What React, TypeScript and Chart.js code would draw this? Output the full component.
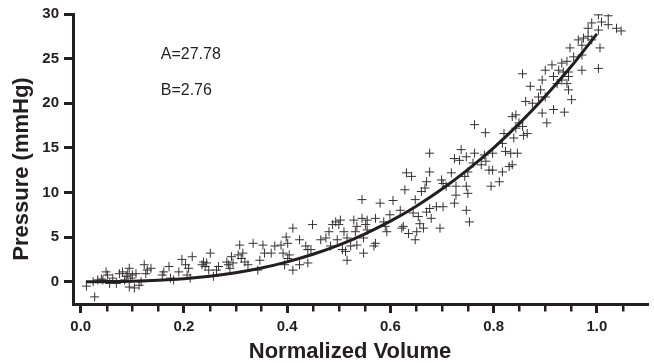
import React, { useEffect, useRef } from "react";
import { Chart, registerables } from "chart.js";

Chart.register(...registerables);

// Measured points (normalized volume, pressure in mmHg)
const volume = [
  0.011, 0.027, 0.024, 0.033, 0.040, 0.049, 0.052, 0.056, 0.062, 0.069, 0.081, 0.088, 0.091, 0.094,
  0.097, 0.094, 0.104, 0.107, 0.113, 0.117, 0.123, 0.129, 0.043, 0.075, 0.085, 0.100, 0.126,
  0.136, 0.161, 0.158, 0.171, 0.174, 0.180, 0.190, 0.196, 0.203, 0.206, 0.209, 0.216, 0.212, 0.235,
  0.238, 0.241, 0.248, 0.251, 0.244, 0.257, 0.267, 0.263, 0.283, 0.286, 0.289, 0.292, 0.295, 0.305,
  0.308, 0.311, 0.314, 0.318, 0.324, 0.334, 0.343, 0.347, 0.353, 0.356,
  0.545, 0.580, 0.605, 0.599, 0.587, 0.494, 0.503, 0.529, 0.545, 0.555, 0.571, 0.449, 0.488, 0.500,
  0.535, 0.552, 0.590, 0.411, 0.481, 0.510, 0.532, 0.555, 0.593, 0.398, 0.424, 0.465, 0.475, 0.497,
  0.516, 0.548, 0.571, 0.376, 0.388, 0.401, 0.436, 0.440, 0.484, 0.507, 0.523, 0.535, 0.369, 0.392,
  0.404, 0.446, 0.513, 0.548, 0.568, 0.401, 0.424, 0.440, 0.395, 0.411, 0.516,
  0.836, 0.843, 0.849, 0.894, 0.903, 0.763, 0.784, 0.820, 0.843, 0.856, 0.865, 0.839, 0.858, 0.817,
  0.823, 0.833, 0.846, 0.676, 0.737, 0.724, 0.734, 0.747, 0.763, 0.782, 0.798, 0.760, 0.776, 0.785,
  0.791, 0.798, 0.817, 0.830, 0.836, 0.631, 0.641, 0.676, 0.718, 0.750, 0.811, 0.795, 0.699, 0.702,
  0.727, 0.670, 0.667, 0.628, 0.660, 0.708, 0.744, 0.747, 0.750, 0.727, 0.648, 0.724, 0.702, 0.689,
  0.676, 0.619, 0.644, 0.670, 0.679, 0.654, 0.657, 0.625, 0.635, 0.648, 0.651, 0.664, 0.696, 0.747,
  0.753, 0.622, 0.916, 0.937,
  1.003, 1.022, 0.990, 1.009, 1.038, 1.047, 0.983, 1.003, 1.022, 0.964, 0.974, 0.983, 0.990, 0.971,
  1.006, 0.948, 0.942, 0.955, 0.971, 0.932, 0.913, 0.900, 0.926, 0.971, 1.003, 0.856, 0.894, 0.916,
  0.932, 0.945, 0.942, 0.923, 0.871, 0.891, 0.945, 0.887, 0.900, 0.951, 0.862, 0.875, 0.935, 0.945,
];

const pressure = [
  -0.5, -1.7, 0.0, 0.2, 0.3, 1.1, 0.75, -0.2, 0.4, -0.2, 1.1, 0.6, 0.9, 1.5,
  0.4, -0.6, -0.7, 0.9, -0.4, 0.0, 1.9, 1.3, 0.2, 0.9, 0.2, 0.75, 0.9,
  1.5, 1.1, 0.75, 1.7, 0.4, 0.2, 1.1, 2.5, 1.9, 0.75, 1.5, 2.8, 0.4, 1.9,
  2.2, 1.7, 1.3, 3.2, 2.1, 0.6, 1.7, 1.3, 2.2, 1.9, 1.5, 2.8, 2.1, 3.0,
  4.1, 2.6, 3.2, 2.2, 1.9, 4.3, 1.3, 2.4, 4.1, 3.2,
  9.2, 8.8, 9.1, 7.5, 6.7, 6.7, 6.9, 6.9, 7.1, 6.9, 7.1, 6.4, 6.4, 6.4,
  6.2, 6.4, 6.2, 6.0, 5.6, 5.6, 5.6, 5.8, 5.6, 5.0, 4.7, 4.7, 4.9, 4.7,
  4.9, 4.9, 4.3, 4.0, 4.1, 4.3, 4.0, 3.6, 4.0, 3.6, 4.0, 4.1, 3.2, 3.2,
  3.0, 3.6, 3.4, 3.2, 4.0, 2.6, 1.9, 2.1, 1.9, 1.3, 2.4,
  18.5, 18.7, 17.8, 18.9, 17.8, 17.6, 16.7, 16.6, 17.2, 17.4, 16.6, 16.1, 16.4, 15.5,
  14.6, 14.4, 14.4, 14.4, 14.8, 13.8, 13.6, 14.0, 14.4, 14.2, 14.4, 13.3, 13.1, 13.5,
  12.5, 12.5, 12.3, 12.9, 13.1, 12.2, 11.8, 12.3, 12.2, 12.3, 11.2, 10.7, 11.4, 11.0,
  10.7, 11.2, 10.5, 10.3, 10.1, 10.7, 11.8, 10.7, 9.9, 9.7, 9.2, 8.8, 8.4, 8.4,
  8.2, 8.0, 7.7, 7.8, 7.1, 7.3, 6.5, 6.2, 5.4, 4.7, 5.6, 6.0, 6.0, 8.0,
  6.7, 6.0, 19.3, 19.0,
  29.9, 29.8, 29.0, 29.1, 28.4, 28.1, 28.4, 28.2, 28.8, 27.1, 27.3, 27.5, 27.1, 26.5,
  26.2, 26.2, 24.7, 25.2, 25.4, 24.5, 24.3, 23.7, 23.7, 23.7, 23.9, 23.3, 22.6, 23.0,
  22.6, 23.0, 22.2, 22.2, 21.9, 21.5, 21.5, 20.7, 20.7, 20.4, 20.2, 20.0, 23.5, 23.5,
];

// Fitted curve
const fitVolume = [0.01, 0.05, 0.1, 0.15, 0.2, 0.25, 0.3, 0.35, 0.4, 0.45, 0.5, 0.55, 0.6, 0.65, 0.7, 0.75, 0.8, 0.85, 0.9, 0.95, 1.0];
const fitPressure = [0.0, 0.01, 0.05, 0.15, 0.33, 0.61, 1.0, 1.53, 2.22, 3.07, 4.1, 5.34, 6.78, 8.46, 10.38, 12.56, 15.0, 17.74, 20.77, 24.11, 27.78];

const xTickValues = [0.0, 0.2, 0.4, 0.6, 0.8, 1.0];
const xMinorTickValues = [0.05, 0.1, 0.15, 0.25, 0.3, 0.35, 0.45, 0.5, 0.55, 0.65, 0.7, 0.75, 0.85, 0.9, 0.95, 1.05];
const yTickValues = [0, 5, 10, 15, 20, 25, 30];

const paramLabels = ["A=27.78", "B=2.76"];
const xTitle = "Normalized Volume";
const yTitle = "Pressure (mmHg)";

const INK = "#231f20";
const FONT = '"Liberation Sans", Arial, Helvetica, sans-serif';

const decorPlugin = {
  id: "decor",
  afterDraw(chart: any) {
    const ctx = chart.ctx;
    const xs = chart.scales.x;
    const ys = chart.scales.y;
    ctx.save();
    // minor ticks on x axis
    ctx.strokeStyle = INK;
    ctx.lineWidth = 2.5;
    const top = xs.top + 1.5;
    xMinorTickValues.forEach((v) => {
      const px = Math.round(xs.getPixelForValue(v)) + 0.25;
      ctx.beginPath();
      ctx.moveTo(px, top);
      ctx.lineTo(px, top + 6);
      ctx.stroke();
    });
    // parameter annotations
    ctx.fillStyle = INK;
    ctx.font = "16px " + FONT;
    ctx.textAlign = "left";
    ctx.textBaseline = "middle";
    const annX = xs.getPixelForValue(0.155);
    ctx.fillText(paramLabels[0], annX, ys.getPixelForValue(25.5));
    ctx.fillText(paramLabels[1], annX, ys.getPixelForValue(21.4));
    // axis titles
    ctx.font = "bold 22px " + FONT;
    ctx.textAlign = "center";
    ctx.fillText(xTitle, 350, 352);
    ctx.translate(22, 169);
    ctx.rotate(-Math.PI / 2);
    ctx.fillText(yTitle, 0, 0);
    ctx.restore();
  },
};

export default function App() {
  const ref = useRef<HTMLCanvasElement | null>(null);

  useEffect(() => {
    if (!ref.current) return;
    const points = volume.map((v, i) => ({ x: v, y: pressure[i] }));
    const fit = fitVolume.map((v, i) => ({ x: v, y: fitPressure[i] }));
    const chart = new Chart(ref.current, {
      type: "scatter",
      data: {
        datasets: [
          {
            label: "fit",
            data: fit,
            showLine: true,
            borderColor: INK,
            borderWidth: 3,
            pointRadius: 0,
            cubicInterpolationMode: "monotone",
            fill: false,
          } as any,
          {
            label: "data",
            data: points,
            pointStyle: "cross",
            pointRadius: 4.5,
            pointBorderWidth: 1,
            borderColor: "#333333",
            backgroundColor: "#333333",
            showLine: false,
          } as any,
        ],
      },
      options: {
        animation: false,
        responsive: false,
        devicePixelRatio: 1,
        layout: { padding: { top: 13, left: 0, right: 0, bottom: 0 } },
        plugins: { legend: { display: false }, tooltip: { enabled: false }, title: { display: false } },
        scales: {
          x: {
            type: "linear",
            min: -0.015,
            max: 1.1,
            afterBuildTicks: (scale: any) => {
              scale.ticks = xTickValues.map((v) => ({ value: v }));
            },
            afterFit: (scale: any) => {
              scale.height = 59;
            },
            grid: { drawOnChartArea: false, drawTicks: true, tickLength: 9, tickWidth: 3, tickColor: INK },
            border: { display: true, color: INK, width: 3 },
            ticks: {
              color: INK,
              padding: 5,
              maxRotation: 0,
              autoSkip: false,
              font: { family: FONT, size: 15, weight: "bold" },
              callback: (v: any) => Number(v).toFixed(1),
            },
          },
          y: {
            type: "linear",
            min: -2.5,
            max: 30,
            afterBuildTicks: (scale: any) => {
              scale.ticks = yTickValues.map((v) => ({ value: v }));
            },
            afterFit: (scale: any) => {
              scale.width = 73;
            },
            grid: { drawOnChartArea: false, drawTicks: true, tickLength: 9, tickWidth: 3, tickColor: INK },
            border: { display: true, color: INK, width: 3 },
            ticks: {
              color: INK,
              padding: 5,
              autoSkip: false,
              font: { family: FONT, size: 15, weight: "bold" },
              callback: (v: any) => String(v),
            },
          },
        },
      } as any,
      plugins: [decorPlugin],
    });
    return () => chart.destroy();
  }, []);

  return (
    <div style={{ position: "absolute", left: 0, top: 0, width: 654, height: 363, background: "#fff" }}>
      <canvas ref={ref} width={654} height={363} style={{ display: "block" }} />
    </div>
  );
}
